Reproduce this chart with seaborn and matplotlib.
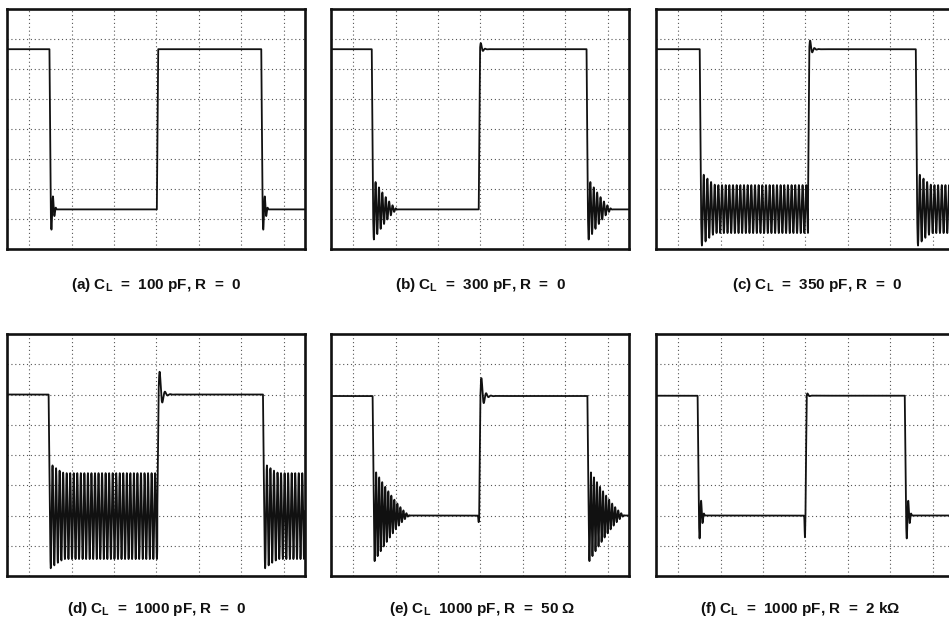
import numpy as np
import pandas as pd
import matplotlib
matplotlib.use("Agg")
import matplotlib.pyplot as plt
import seaborn as sns

# ---- data (x in grid divisions, y in divisions from bottom) ----
panel_ids = ["a", "b", "c", "d", "e", "f"]
labels = [
    "(a) $\\mathrm{C}_\\mathrm{L}$  =  100 pF, R  =  0",
    "(b) $\\mathrm{C}_\\mathrm{L}$  =  300 pF, R  =  0",
    "(c) $\\mathrm{C}_\\mathrm{L}$  =  350 pF, R  =  0",
    "(d) $\\mathrm{C}_\\mathrm{L}$  =  1000 pF, R  =  0",
    "(e) $\\mathrm{C}_\\mathrm{L}$  1000 pF, R  =  50 \u03a9",
    "(f) $\\mathrm{C}_\\mathrm{L}$  =  1000 pF, R  =  2 k\u03a9",
]
high_level = [6.66, 6.66, 6.66, 6.00, 5.95, 5.96]
low_level = [1.32, 1.32, 1.33, 1.98, 2.00, 2.00]
fall_edge_1 = [0.48, 0.44, 0.51, 0.46, 0.46, 0.46]
rise_edge = [3.01, 2.96, 3.06, 3.02, 2.97, 3.00]
fall_edge_2 = [5.47, 5.50, 5.60, 5.51, 5.52, 5.34]
ring_start_amp = [0.80, 1.05, 1.25, 1.75, 1.55, 0.90]
ring_sustain_amp = [0.0, 0.0, 0.80, 1.42, 0.0, 0.0]
ring_length = [0.14, 0.58, 0.35, 0.35, 0.85, 0.14]
ring_freq = [14.0, 12.5, 11.6, 12.0, 14.0, 14.0]
overshoot_amp = [0.0, 0.35, 0.45, 1.20, 0.90, 0.15]
overshoot_decay = [0.05, 0.04, 0.05, 0.06, 0.06, 0.03]
overshoot_freq = [10.0, 10.0, 10.0, 8.0, 9.0, 10.0]
pre_rise_dip = [0.0, 0.0, 0.0, 0.0, 0.22, 0.72]
edge_time = 0.03

# ---- layout (pixels of the 949x619 reference) ----
W, H = 949, 619
col_left = [7, 331, 656]
row_top = [9, 334]
panel_w, panel_h = [298, 298, 298], [240, 242]
label_x = [[156, 481, 817], [157, 482, 800]]
label_y = [285, 609]

sns.set_style("white")
plt.rcParams["font.family"] = ["Liberation Sans", "DejaVu Sans"]
plt.rcParams["mathtext.fontset"] = "custom"
plt.rcParams["mathtext.rm"] = "Liberation Sans:bold"
plt.rcParams["mathtext.bf"] = "Liberation Sans:bold"

fig = plt.figure(figsize=(W / 100, H / 100), dpi=100)
fig.patch.set_facecolor("white")

x = np.linspace(-0.52, 6.50, 40000)


def step(xv, x0):
    return np.clip((xv - x0) / edge_time, 0.0, 1.0)


def waveform(i):
    hi, lo = high_level[i], low_level[i]
    f1, r, f2 = fall_edge_1[i], rise_edge[i], fall_edge_2[i]
    sw = hi - lo
    y = hi - sw * step(x, f1) + sw * step(x, r) - sw * step(x, f2)
    for fe, stop in ((f1, r), (f2, np.inf)):
        t = np.clip(x - (fe + edge_time), 0, None)
        m = (x >= fe + edge_time) & (x < stop)
        a0, sus = ring_start_amp[i], ring_sustain_amp[i]
        fade = np.clip(1 - t / ring_length[i], 0, 1) ** 1.3
        env = sus + (a0 - sus) * fade
        y = y - m * env * np.sin(2 * np.pi * ring_freq[i] * t)
    t = x - (r + edge_time)
    m = (t >= 0) & (x < f2)
    tc = np.clip(t, 0, None)
    y = y + m * overshoot_amp[i] * np.exp(-tc / overshoot_decay[i]) * np.sin(
        2 * np.pi * overshoot_freq[i] * tc)
    y = y - pre_rise_dip[i] * np.exp(-((x - (r - 0.012)) / 0.01) ** 2)
    return y


for i, pid in enumerate(panel_ids):
    row, col = divmod(i, 3)
    left = col_left[col] / W
    bottom = 1 - (row_top[row] + panel_h[row]) / H
    ax = fig.add_axes([left, bottom, panel_w[col] / W, panel_h[row] / H])
    df = pd.DataFrame({"t": x, "v": waveform(i)})
    sns.lineplot(data=df, x="t", y="v", ax=ax, estimator=None, sort=False,
                 color="#111111", linewidth=1.3)
    ax.set_xlim(-0.52, 6.50)
    ax.set_ylim(0, 8)
    ax.set_xticks(range(0, 7))
    ax.set_yticks(range(1, 8))
    ax.grid(True, linestyle=(0, (1, 2.5)), color="#555555", linewidth=0.8)
    ax.tick_params(length=0, labelbottom=False, labelleft=False)
    ax.set_xlabel("")
    ax.set_ylabel("")
    for sp in ax.spines.values():
        sp.set_visible(True)
        sp.set_color("#111111")
        sp.set_linewidth(1.9)
    fig.text(label_x[row][col] / W, 1 - label_y[row] / H, labels[i],
             ha="center", va="center", fontsize=11, fontweight="bold",
             color="#111111")

fig.savefig("out.png", dpi=100)
